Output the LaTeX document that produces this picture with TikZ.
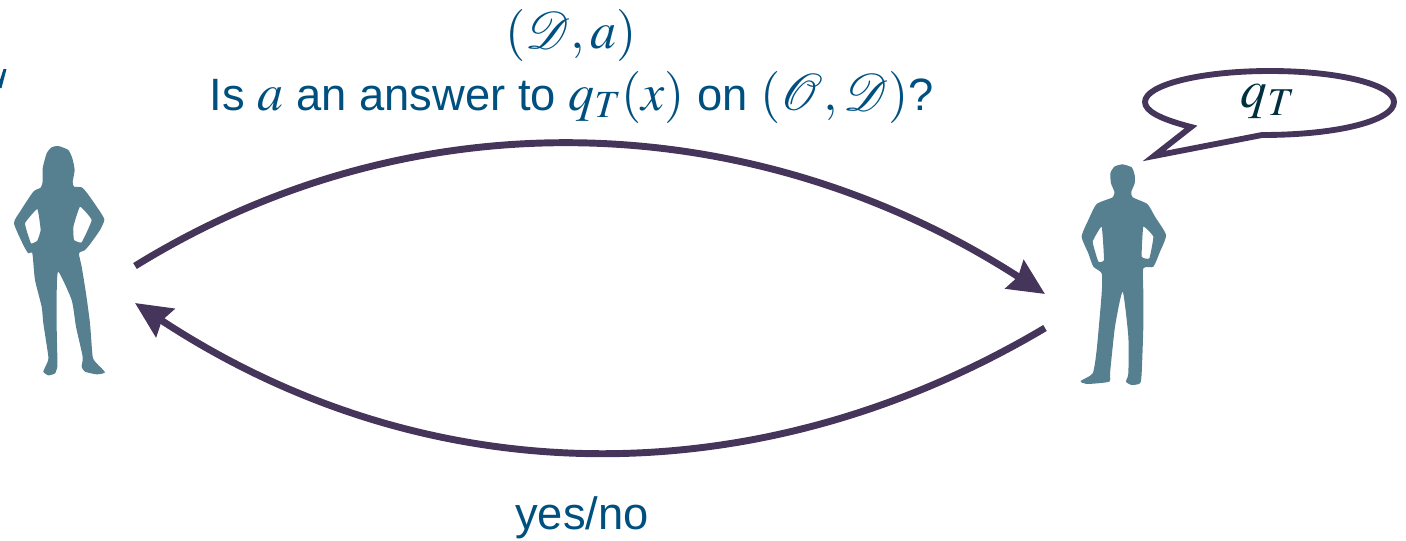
\documentclass[tikz,border=0pt]{standalone}
\usepackage{mathptmx}
\usepackage[no-math]{fontspec}
\setmainfont{Liberation Sans}
\usetikzlibrary{arrows.meta,positioning}
\definecolor{silhouette}{HTML}{568090}
\definecolor{talkline}{HTML}{46355A}
\definecolor{talktext}{HTML}{00507F}
\definecolor{bubbletext}{HTML}{00303F}
\tikzset{
  person silhouette/.style={fill=silhouette, even odd rule},
  talk arrow/.style={
    draw=talkline,
    line width=5.2pt,
    -{Stealth[length=27pt,width=25pt,inset=3pt]}
  },
  talk bubble/.style={draw=talkline, line width=4.4pt, fill=white, line join=miter},
  talk label/.style={text=talktext, font=\fontsize{34}{40}\selectfont, inner sep=0pt},
  bubble label/.style={text=bubbletext, font=\fontsize{40}{44}\selectfont, inner sep=0pt}
}
\newcommand{\talkMath}[1]{{\fontsize{39}{43}\selectfont$#1$}}
\newcommand{\drawWoman}{%
  \fill[person silhouette,shift={(0,60)},x=0.25pt,y=-0.25pt]
    plot[smooth cycle,tension=0.35] coordinates {
      (175,258) (205,270) (217,295) (224,330) (218,365) (222,380) (245,382)
      (262,400) (290,440) (313,478) (300,510) (272,550) (255,570) (237,580)
      (245,620) (258,700) (270,790) (278,890) (290,910) (315,937) (290,943)
      (255,935) (245,920) (248,890) (228,800) (215,720) (175,635) (170,700)
      (170,800) (172,890) (172,920) (165,940) (145,946) (130,935) (140,912)
      (145,890) (130,790) (125,740) (105,660) (97,580) (85,580) (70,555)
      (42,490) (60,455) (100,395) (122,383) (128,365) (128,325) (140,280)
      (155,262)}
    plot[smooth cycle,tension=0.2] coordinates {
      (112,447) (122,510) (112,542) (93,550) (75,490)}
    plot[smooth cycle,tension=0.2] coordinates {
      (240,440) (275,480) (245,547) (222,540) (220,500)};%
}
\newcommand{\drawMan}{%
  \fill[person silhouette,shift={(1060,60)},x=0.25pt,y=-0.25pt]
    plot[smooth cycle,tension=0.35] coordinates {
      (187,313) (215,322) (224,345) (224,370) (214,395) (218,412) (262,432)
      (285,470) (318,525) (300,575) (280,620) (250,625) (250,700) (250,800)
      (245,940) (240,970) (215,975) (198,965) (205,940) (205,830) (188,695)
      (165,800) (150,940) (148,965) (80,972) (62,963) (98,940) (110,870)
      (125,700) (125,640) (100,620) (85,580) (65,530) (85,480) (110,432)
      (158,412) (163,395) (153,370) (151,340) (163,320)}
    plot[smooth cycle,tension=0.2] coordinates {
      (125,500) (132,600) (115,605) (98,545)}
    plot[smooth cycle,tension=0.2] coordinates {
      (250,500) (280,530) (268,595) (245,590)};%
}

\begin{document}
\begin{tikzpicture}[x=0.75pt,y=-0.75pt]
  \useasboundingbox (0,0) rectangle (1406,540);

  \drawWoman
  \drawMan

  % clipped letter at the left edge
  \fill[talktext] (3.5,69) -- (6.5,69) -- (1.5,88) -- (0,88) -- (0,80) -- cycle;

  \coordinate (womanOut) at (135,266);
  \coordinate (manIn) at (1045,294);
  \coordinate (manOut) at (1045,328);
  \coordinate (womanIn) at (135,303);

  \draw[talk arrow] (womanOut) .. controls (420,90) and (760,110) .. (manIn);
  \draw[talk arrow] (manOut) .. controls (760,497) and (430,497) .. (womanIn);

  \draw[talk bubble] (1154,156) -- (1191,127)
    .. controls (1160,119) and (1145,111) .. (1145,102)
    .. controls (1145,85) and (1200,71) .. (1270,71)
    .. controls (1340,71) and (1394,85) .. (1394,102)
    .. controls (1394,120) and (1340,135) .. (1262,135)
    -- cycle;

  \node[talk label] (pairLabel) at (571,35) {\talkMath{(\mathcal{D},a)}};
  \node[talk label] (questionLabel) at (572,97)
    {Is \talkMath{a} an answer to \talkMath{q_T(x)} on \talkMath{(\mathcal{O},\mathcal{D})}?};
  \node[talk label] (replyLabel) at (582,518) {yes/no};
  \node[bubble label] (queryLabel) at (1268,101) {$q_T$};
\end{tikzpicture}
\end{document}
